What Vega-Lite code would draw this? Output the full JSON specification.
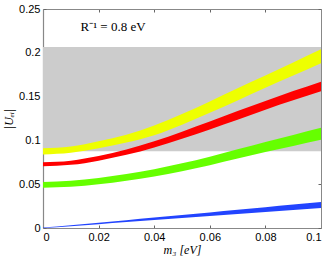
{
  "$schema": "https://vega.github.io/schema/vega-lite/v6.json",
  "width": 278,
  "height": 219,
  "autosize": {"type": "none"},
  "padding": {"left": 43, "top": 9, "right": 11, "bottom": 30},
  "background": "white",
  "config": {
    "view": {"stroke": null},
    "axis": {
      "grid": false,
      "domainColor": "#888888",
      "domainWidth": 1.2,
      "tickColor": "#666666",
      "tickSize": -3,
      "labelFont": "Liberation Sans",
      "labelFontSize": 11,
      "labelColor": "#000000",
      "titleFont": "Liberation Serif",
      "titleFontSize": 12,
      "titleFontStyle": "italic",
      "titleFontWeight": "normal",
      "titleColor": "#000000"
    }
  },
  "datasets": {
    "bg": [{"x": 0, "x2": 0.1, "y": 0.0877, "y2": 0.2066}],
    "note": [{"x": 0.0135, "y": 0.229, "t": "R⁻¹ = 0.8 eV"}],
    "bands": [
      {"m": 0, "s": "Y", "lo": 0.084, "hi": 0.091},
      {"m": 0.01, "s": "Y", "lo": 0.0859, "hi": 0.0931},
      {"m": 0.02, "s": "Y", "lo": 0.091, "hi": 0.099},
      {"m": 0.03, "s": "Y", "lo": 0.0975, "hi": 0.1065},
      {"m": 0.04, "s": "Y", "lo": 0.106, "hi": 0.117},
      {"m": 0.05, "s": "Y", "lo": 0.118, "hi": 0.130},
      {"m": 0.06, "s": "Y", "lo": 0.1315, "hi": 0.1445},
      {"m": 0.07, "s": "Y", "lo": 0.1455, "hi": 0.1595},
      {"m": 0.08, "s": "Y", "lo": 0.160, "hi": 0.174},
      {"m": 0.09, "s": "Y", "lo": 0.174, "hi": 0.189},
      {"m": 0.1, "s": "Y", "lo": 0.188, "hi": 0.204},
      {"m": 0, "s": "R", "lo": 0.0705, "hi": 0.0751},
      {"m": 0.01, "s": "R", "lo": 0.0721, "hi": 0.0769},
      {"m": 0.02, "s": "R", "lo": 0.0769, "hi": 0.0821},
      {"m": 0.03, "s": "R", "lo": 0.0835, "hi": 0.0895},
      {"m": 0.04, "s": "R", "lo": 0.092, "hi": 0.099},
      {"m": 0.05, "s": "R", "lo": 0.102, "hi": 0.110},
      {"m": 0.06, "s": "R", "lo": 0.1125, "hi": 0.1215},
      {"m": 0.07, "s": "R", "lo": 0.1235, "hi": 0.1335},
      {"m": 0.08, "s": "R", "lo": 0.135, "hi": 0.145},
      {"m": 0.09, "s": "R", "lo": 0.1457, "hi": 0.1563},
      {"m": 0.1, "s": "R", "lo": 0.156, "hi": 0.167},
      {"m": 0, "s": "G", "lo": 0.046, "hi": 0.0526},
      {"m": 0.01, "s": "G", "lo": 0.0471, "hi": 0.0539},
      {"m": 0.02, "s": "G", "lo": 0.0499, "hi": 0.0571},
      {"m": 0.03, "s": "G", "lo": 0.054, "hi": 0.0616},
      {"m": 0.04, "s": "G", "lo": 0.0589, "hi": 0.0671},
      {"m": 0.05, "s": "G", "lo": 0.0648, "hi": 0.0738},
      {"m": 0.06, "s": "G", "lo": 0.0717, "hi": 0.0813},
      {"m": 0.07, "s": "G", "lo": 0.0792, "hi": 0.0898},
      {"m": 0.08, "s": "G", "lo": 0.0867, "hi": 0.0983},
      {"m": 0.09, "s": "G", "lo": 0.0937, "hi": 0.1063},
      {"m": 0.1, "s": "G", "lo": 0.1007, "hi": 0.1143},
      {"m": 0, "s": "B", "lo": 0, "hi": 0.0005},
      {"m": 0.01, "s": "B", "lo": 0.002, "hi": 0.003},
      {"m": 0.02, "s": "B", "lo": 0.0044, "hi": 0.0059},
      {"m": 0.03, "s": "B", "lo": 0.0068, "hi": 0.0089},
      {"m": 0.04, "s": "B", "lo": 0.0091, "hi": 0.0119},
      {"m": 0.05, "s": "B", "lo": 0.0114, "hi": 0.0149},
      {"m": 0.06, "s": "B", "lo": 0.0137, "hi": 0.0178},
      {"m": 0.07, "s": "B", "lo": 0.016, "hi": 0.0208},
      {"m": 0.08, "s": "B", "lo": 0.0183, "hi": 0.0238},
      {"m": 0.09, "s": "B", "lo": 0.0206, "hi": 0.0268},
      {"m": 0.1, "s": "B", "lo": 0.0229, "hi": 0.0297}
    ]
  },
  "layer": [
    {
      "data": {"name": "bg"},
      "mark": {"type": "rect", "color": "#cccccc"},
      "encoding": {
        "x": {"field": "x", "type": "quantitative",
              "scale": {"domain": [0, 0.1], "nice": false, "zero": false},
              "axis": {"orient": "bottom", "values": [0, 0.02, 0.04, 0.06, 0.08, 0.1],
                       "format": "~g", "labelPadding": 6, "title": "m₃ [eV]", "titlePadding": 2}},
        "x2": {"field": "x2"},
        "y": {"field": "y", "type": "quantitative",
              "scale": {"domain": [0, 0.25], "nice": false},
              "axis": {"orient": "left", "values": [0, 0.05, 0.1, 0.15, 0.2, 0.25],
                       "format": "~g", "labelPadding": 6, "title": "|Uₑᵢ|", "titlePadding": 3}},
        "y2": {"field": "y2"}
      }
    },
    {
      "data": {"name": "bands"},
      "mark": {"type": "area", "interpolate": "monotone", "opacity": 1},
      "encoding": {
        "x": {"field": "m", "type": "quantitative",
              "axis": {"orient": "top", "values": [0, 0.02, 0.04, 0.06, 0.08, 0.1], "labels": false, "title": null, "domainWidth": 1}},
        "y": {"field": "lo", "type": "quantitative",
              "axis": {"orient": "right", "values": [0, 0.05, 0.1, 0.15, 0.2, 0.25], "labels": false, "title": null, "domainWidth": 1}},
        "y2": {"field": "hi"},
        "color": {"field": "s", "type": "nominal", "legend": null,
                  "scale": {"domain": ["Y", "R", "G", "B"], "range": ["#eeff00", "#ff0000", "#66ff00", "#2244ff"]}},
        "detail": {"field": "s"}
      }
    },
    {
      "data": {"name": "note"},
      "mark": {"type": "text", "align": "left", "baseline": "middle", "font": "Liberation Serif", "fontSize": 13, "color": "#000000"},
      "encoding": {
        "x": {"field": "x", "type": "quantitative", "scale": {"domain": [0, 0.1], "nice": false, "zero": false}, "axis": null},
        "y": {"field": "y", "type": "quantitative", "scale": {"domain": [0, 0.25], "nice": false}, "axis": null},
        "text": {"field": "t"}
      }
    }
  ],
  "resolve": {"axis": {"x": "independent", "y": "independent"}}
}
